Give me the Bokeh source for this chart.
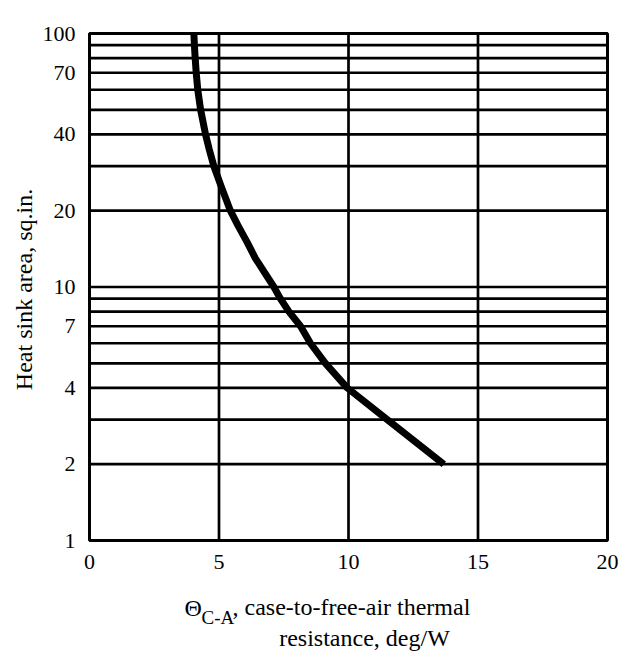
import math
from bokeh.plotting import figure
from bokeh.models import Label, Range1d
from bokeh.core.properties import value
from bokeh.embed import file_html
from bokeh.resources import INLINE

# ---- data ----
area = [100, 90, 80, 70, 60, 50, 40, 35, 30, 25, 20, 17.5, 15, 13, 10, 9, 8, 7, 6, 5, 4, 3, 2]
theta = [4.03, 4.05, 4.08, 4.12, 4.18, 4.29, 4.48, 4.62, 4.80, 5.08, 5.44, 5.73, 6.09, 6.4,
         7.12, 7.37, 7.70, 8.15, 8.53, 9.11, 9.95, 11.49, 13.68]

y_ticks = [1, 2, 4, 7, 10, 20, 40, 70, 100]
x_ticks = [0, 5, 10, 15, 20]
y_grid = [2, 3, 4, 5, 6, 7, 8, 9, 10, 20, 30, 40, 50, 60, 70, 80, 90]
x_grid = [5, 10, 15]
x_min, x_max = 0, 20
y_min, y_max = 1, 100

y_title = "Heat sink area, sq.in."
x_title_sym = "\u0398"
x_title_sub = "C-A"
x_title_1 = ", case-to-free-air thermal"
x_title_2 = "resistance, deg/W"

FONT = "Liberation Serif"

# ---- layout (pixels) ----
W, H = 619, 651
L, R, T, B = 89, 607, 33, 540          # plotting box inside the canvas
PX_X = (R - L) / (x_max - x_min)      # pixels per x unit
DEC = (B - T) / (math.log10(y_max) - math.log10(y_min))  # pixels per decade

x_range = Range1d(x_min - L / PX_X, x_max + (W - R) / PX_X)
y_range = Range1d(y_min * 10 ** (-(H - B) / DEC), y_max * 10 ** (T / DEC))

p = figure(width=W, height=H, output_backend="svg", toolbar_location=None,
           x_range=x_range, y_range=y_range, y_axis_type="log",
           x_axis_location=None, y_axis_location=None,
           min_border=0, min_border_left=0, min_border_right=0,
           min_border_top=0, min_border_bottom=0,
           background_fill_color="white", border_fill_color="white")
p.outline_line_color = None
for g in p.grid:
    g.visible = False


def px_to_x(px):
    return x_min + (px - L) / PX_X


def py_to_y(py):
    return y_min * 10 ** ((B - py) / DEC)


# grid lines
p.segment(x0=[x_min] * len(y_grid), x1=[x_max] * len(y_grid), y0=y_grid, y1=y_grid,
          line_color="black", line_width=2.7)
p.segment(x0=x_grid, x1=x_grid, y0=[y_min] * len(x_grid), y1=[y_max] * len(x_grid),
          line_color="black", line_width=2.7)
# frame border
p.quad(left=[x_min], right=[x_max], bottom=[y_min], top=[y_max],
       fill_color=None, line_color="black", line_width=3)

# curve
p.line(theta, area, line_width=7, color="black", line_join="round")

# tick labels
p.text(x=[px_to_x(L - 14)] * len(y_ticks), y=y_ticks, text=[str(v) for v in y_ticks],
       text_font=value(FONT), text_font_size="22px", text_align="right",
       text_baseline="middle", text_color="black")
p.text(x=x_ticks, y=[py_to_y(B + 14)] * len(x_ticks), text=[str(v) for v in x_ticks],
       text_font=value(FONT), text_font_size="22px", text_align="center",
       text_baseline="top", text_color="black")


def add_label(text, px, py, size, align="left", baseline="alphabetic", angle=0.0):
    p.add_layout(Label(x=px_to_x(px), y=py_to_y(py), text=text, text_font=FONT,
                       text_font_size=size, text_align=align, text_baseline=baseline,
                       angle=angle, text_color="black"))


add_label(y_title, 23, 289, "24px", align="center", baseline="middle", angle=math.pi / 2)
add_label(x_title_sym, 184, 607, "24px")
add_label(x_title_sub, 201, 617, "19px")
add_label(x_title_1, 232, 606, "24px")
add_label(x_title_2, 364, 637, "24px", align="center")

open("out.html", "w").write(file_html(p, INLINE))
